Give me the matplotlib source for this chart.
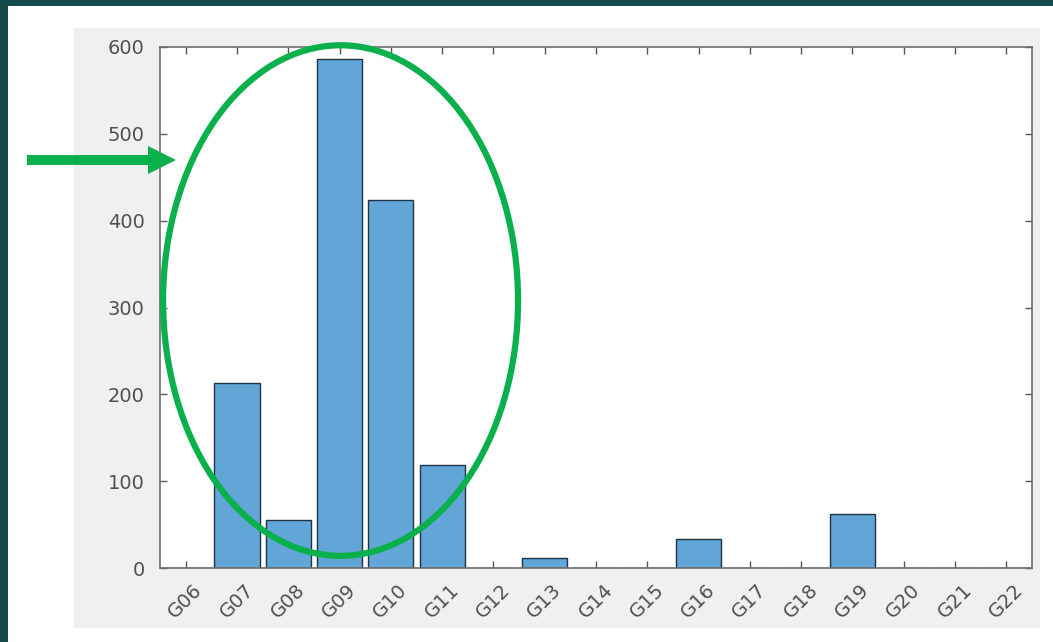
import matplotlib.pyplot as plt
import matplotlib.transforms as mtransforms
from matplotlib.patches import Rectangle, Ellipse, Polygon

# data
labels = ["G06", "G07", "G08", "G09", "G10", "G11", "G12", "G13", "G14",
          "G15", "G16", "G17", "G18", "G19", "G20", "G21", "G22"]
counts = [0, 213, 55, 586, 424, 119, 0, 11, 0, 0, 33, 0, 0, 62, 0, 0, 0]
y_ticks = [0, 100, 200, 300, 400, 500, 600]

W, H = 1053, 642
teal = "#134a4a"
green = "#09b04c"
bar_col = "#62a5d7"
txt_col = "#505050"

plt.rcParams['font.family'] = ['DejaVu Sans']

fig = plt.figure(figsize=(W / 100, H / 100), dpi=100, facecolor=teal)


def px(x0, y0, x1, y1):
    # pixel box (top-left origin) -> figure fraction rect
    return (x0 / W, 1 - y1 / H), (x1 - x0) / W, (y1 - y0) / H


# white page and grey panel behind the axes
for box, col in [((8, 6, W, H), "white"), ((74, 28, 1040, 628), "#f0f0f0")]:
    xy, w, h = px(*box)
    fig.patches.append(Rectangle(xy, w, h, transform=fig.transFigure,
                                 facecolor=col, edgecolor="none", zorder=-2))

ax = fig.add_axes([160 / W, 1 - 568 / H, (1032 - 160) / W, (568 - 47) / H])
ax.set_facecolor("white")

x = list(range(len(labels)))
ax.bar(x, counts, width=0.88, color=bar_col, edgecolor="#1f3347", linewidth=1.0, zorder=2)

ax.set_xlim(-0.5, len(labels) - 0.5)
ax.set_ylim(0, 600)
ax.set_xticks(x)
ax.set_xticklabels(labels, rotation=45, ha="right", rotation_mode="anchor")
ax.set_yticks(y_ticks)
ax.tick_params(direction="in", length=5, width=1, colors="#555555",
               labelcolor=txt_col, labelsize=14, top=True, right=True)
ax.tick_params(axis="y", pad=11)
ax.tick_params(axis="x", pad=9)
shift = mtransforms.ScaledTranslation(7 / 100, 0, fig.dpi_scale_trans)
for lab in ax.get_xticklabels():
    lab.set_transform(lab.get_transform() + shift)
for s in ax.spines.values():
    s.set_color("#6e6e6e")
    s.set_linewidth(1.2)

# green ellipse around the tall bars
ell = Ellipse((3.02, 308), width=6.92, height=588, transform=ax.transData,
              fill=False, edgecolor=green, linewidth=4.5, clip_on=False, zorder=5)
ax.add_patch(ell)

# green arrow on the left
ay = 160
shaft_h, head_h = 5, 14
pts = [(27, ay - shaft_h), (148, ay - shaft_h), (148, ay - head_h), (176, ay),
       (148, ay + head_h), (148, ay + shaft_h), (27, ay + shaft_h)]
pts = [(p[0] / W, 1 - p[1] / H) for p in pts]
fig.patches.append(Polygon(pts, closed=True, transform=fig.transFigure,
                           facecolor=green, edgecolor="none", zorder=6))

fig.savefig("out.png", dpi=100, facecolor=teal)
